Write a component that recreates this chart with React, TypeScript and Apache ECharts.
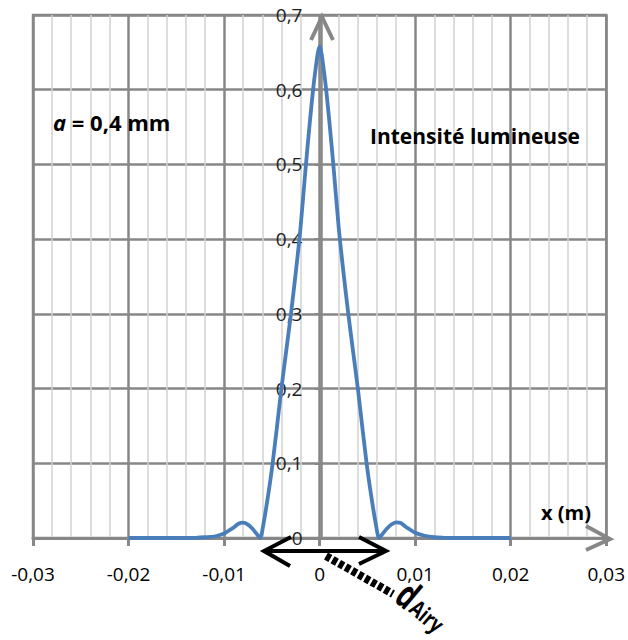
import React, { useEffect, useRef } from 'react';
import * as echarts from 'echarts';

// Position on the screen (m)
const xPositions = [
  -0.02, -0.018, -0.016, -0.014, -0.013, -0.012, -0.011, -0.01, -0.0095, -0.009, -0.0085, -0.008,
  -0.0075, -0.007, -0.0065, -0.0062, -0.006, -0.0055, -0.005, -0.0045, -0.004, -0.0035, -0.003,
  -0.0025, -0.002, -0.0015, -0.001, -0.0005, 0, 0.0005, 0.001, 0.0015, 0.002, 0.0025, 0.003,
  0.0035, 0.004, 0.0045, 0.005, 0.0055, 0.006, 0.0062, 0.0065, 0.007, 0.0075, 0.008, 0.0085,
  0.009, 0.0095, 0.01, 0.011, 0.012, 0.013, 0.014, 0.016, 0.018, 0.02,
];
// Light intensity
const intensity = [
  0, 0, 0, 0, 0.0003, 0.001, 0.002, 0.006, 0.01, 0.014, 0.019, 0.0205,
  0.018, 0.012, 0.004, 0, 0.01, 0.048, 0.092, 0.145, 0.2, 0.25, 0.3,
  0.355, 0.415, 0.49, 0.56, 0.62, 0.658, 0.62, 0.56, 0.49, 0.415, 0.355, 0.3,
  0.25, 0.2, 0.145, 0.092, 0.048, 0.01, 0, 0.004, 0.012, 0.018, 0.021, 0.02,
  0.015, 0.011, 0.007, 0.003, 0.001, 0.0003, 0, 0, 0, 0,
];

const xRange = { min: -0.03, max: 0.03, step: 0.01 };
const yRange = { min: 0, max: 0.7, step: 0.1 };

const labelA = 'a';
const labelAValue = ' = 0,4 mm';
const labelCurve = 'Intensité lumineuse';
const labelXAxis = 'x (m)';
const labelAiryD = 'd';
const labelAiryIdx = 'Airy';

const fmt = (v: number, p: number) => String(Math.round(v * p) / p).replace('.', ',');

const GRID_MAJOR = '#878787';
const GRID_MINOR = '#d2d2d2';
const FONT = '"Open Sans", "Liberation Sans", sans-serif';

const GRID_LEFT = 33;
const GRID_RIGHT = 18;
const CHART_W = 628;

export default function App() {
  const ref = useRef<HTMLDivElement>(null);
  useEffect(() => {
    if (!ref.current) return;
    const chart = echarts.init(ref.current, undefined, { renderer: 'svg' });
    const rot = (-40 * Math.PI) / 180;
    const plotW = CHART_W - GRID_LEFT - GRID_RIGHT;
    // shift the y axis from the left edge to x = 0
    const yAxisShift = -plotW * ((0 - xRange.min) / (xRange.max - xRange.min));
    chart.setOption({
      animation: false,
      backgroundColor: '#ffffff',
      grid: {
        left: GRID_LEFT,
        right: GRID_RIGHT,
        top: 15,
        bottom: 102,
        show: true,
        borderColor: GRID_MAJOR,
        borderWidth: 2.5,
        backgroundColor: '#ffffff',
      },
      xAxis: {
        type: 'value',
        min: xRange.min,
        max: xRange.max,
        interval: xRange.step,
        axisLine: { show: true, onZero: false, lineStyle: { color: GRID_MAJOR, width: 3 } },
        axisTick: { show: true, length: 8, lineStyle: { color: GRID_MAJOR, width: 3 } },
        minorTick: { show: false, splitNumber: 5 },
        minorSplitLine: { show: true, lineStyle: { color: GRID_MINOR, width: 1.5 } },
        splitLine: { show: true, lineStyle: { color: GRID_MAJOR, width: 2.5 } },
        axisLabel: {
          margin: 26,
          fontSize: 19,
          color: '#000',
          fontFamily: FONT,
          formatter: (v: number) => fmt(v, 100),
        },
      },
      yAxis: {
        type: 'value',
        position: 'left',
        offset: yAxisShift,
        min: yRange.min,
        max: yRange.max,
        interval: yRange.step,
        axisLine: { show: true, onZero: false, lineStyle: { color: GRID_MAJOR, width: 2.5 } },
        axisTick: { show: true, length: 7, lineStyle: { color: GRID_MAJOR, width: 2 } },
        splitLine: { show: true, lineStyle: { color: GRID_MAJOR, width: 2.5 } },
        axisLabel: {
          margin: 19,
          fontSize: 19,
          color: '#1e1e1e',
          fontFamily: FONT,
          formatter: (v: number) => fmt(v, 10),
        },
      },
      series: [
        {
          type: 'line',
          data: xPositions.map((x, i) => [x, intensity[i]]),
          symbol: 'none',
          showSymbol: false,
          smooth: 0.3,
          lineStyle: { color: '#4a7ebb', width: 3.8 },
          z: 5,
        },
      ],
      graphic: [
        // y-axis arrow head
        {
          type: 'polyline',
          z: 10,
          shape: { points: [[311, 40], [322, 17], [333, 40]] },
          style: { stroke: GRID_MAJOR, lineWidth: 4, fill: null },
        },
        // x-axis arrow head
        {
          type: 'polyline',
          z: 10,
          shape: { points: [[586, 526], [610, 539], [586, 550]] },
          style: { stroke: GRID_MAJOR, lineWidth: 4, fill: null },
        },
        // double arrow
        {
          type: 'line',
          z: 10,
          shape: { x1: 265, y1: 551, x2: 384, y2: 551 },
          style: { stroke: '#000', lineWidth: 4 },
        },
        {
          type: 'polyline',
          z: 10,
          shape: { points: [[291, 537], [264, 551], [290, 566]] },
          style: { stroke: '#000', lineWidth: 4, fill: null },
        },
        {
          type: 'polyline',
          z: 10,
          shape: { points: [[359, 537], [386, 551], [359, 564]] },
          style: { stroke: '#000', lineWidth: 4, fill: null },
        },
        // dotted connector
        {
          type: 'line',
          z: 10,
          shape: { x1: 326, y1: 556, x2: 393, y2: 594 },
          style: { stroke: '#000', lineWidth: 8, lineDash: [5, 2.5] },
        },
        // d_Airy label
        {
          type: 'group',
          x: 409,
          y: 594,
          rotation: rot,
          z: 10,
          children: [
            {
              type: 'text',
              x: 0,
              y: 0,
              scaleX: 0.8,
              scaleY: 1.2,
              style: {
                text: labelAiryD,
                fontSize: 33,
                fontWeight: 'bold',
                fontFamily: FONT,
                fill: '#000',
                align: 'center',
                verticalAlign: 'middle',
              },
            },
            {
              type: 'text',
              x: 10,
              y: 5,
              scaleX: 0.85,
              scaleY: 1.1,
              style: {
                text: labelAiryIdx,
                fontSize: 21,
                fontWeight: 'bold',
                fontFamily: FONT,
                fill: '#000',
                align: 'left',
                verticalAlign: 'middle',
              },
            },
          ],
        },
        // a = 0,4 mm
        {
          type: 'text',
          x: 53,
          y: 122,
          z: 10,
          style: {
            text: `{i|${labelA}}{b|${labelAValue}}`,
            verticalAlign: 'middle',
            align: 'left',
            rich: {
              i: { fontSize: 22, fontWeight: 'bold', fontStyle: 'italic', fontFamily: FONT, fill: '#000' },
              b: { fontSize: 22, fontWeight: 'bold', fontFamily: FONT, fill: '#000' },
            },
          },
        },
        {
          type: 'text',
          x: 370,
          y: 136,
          z: 10,
          style: {
            text: labelCurve,
            fontSize: 21,
            fontWeight: 'bold',
            fontFamily: FONT,
            fill: '#000',
            align: 'left',
            verticalAlign: 'middle',
          },
        },
        {
          type: 'text',
          x: 541,
          y: 512,
          z: 10,
          style: {
            text: labelXAxis,
            fontSize: 20,
            fontWeight: 'bold',
            fontFamily: FONT,
            fill: '#000',
            align: 'left',
            verticalAlign: 'middle',
          },
        },
      ],
    });
    return () => chart.dispose();
  }, []);
  return (
    <div
      ref={ref}
      style={{ position: 'absolute', left: 0, top: 0, width: 628, height: 640, background: '#fff' }}
    />
  );
}
